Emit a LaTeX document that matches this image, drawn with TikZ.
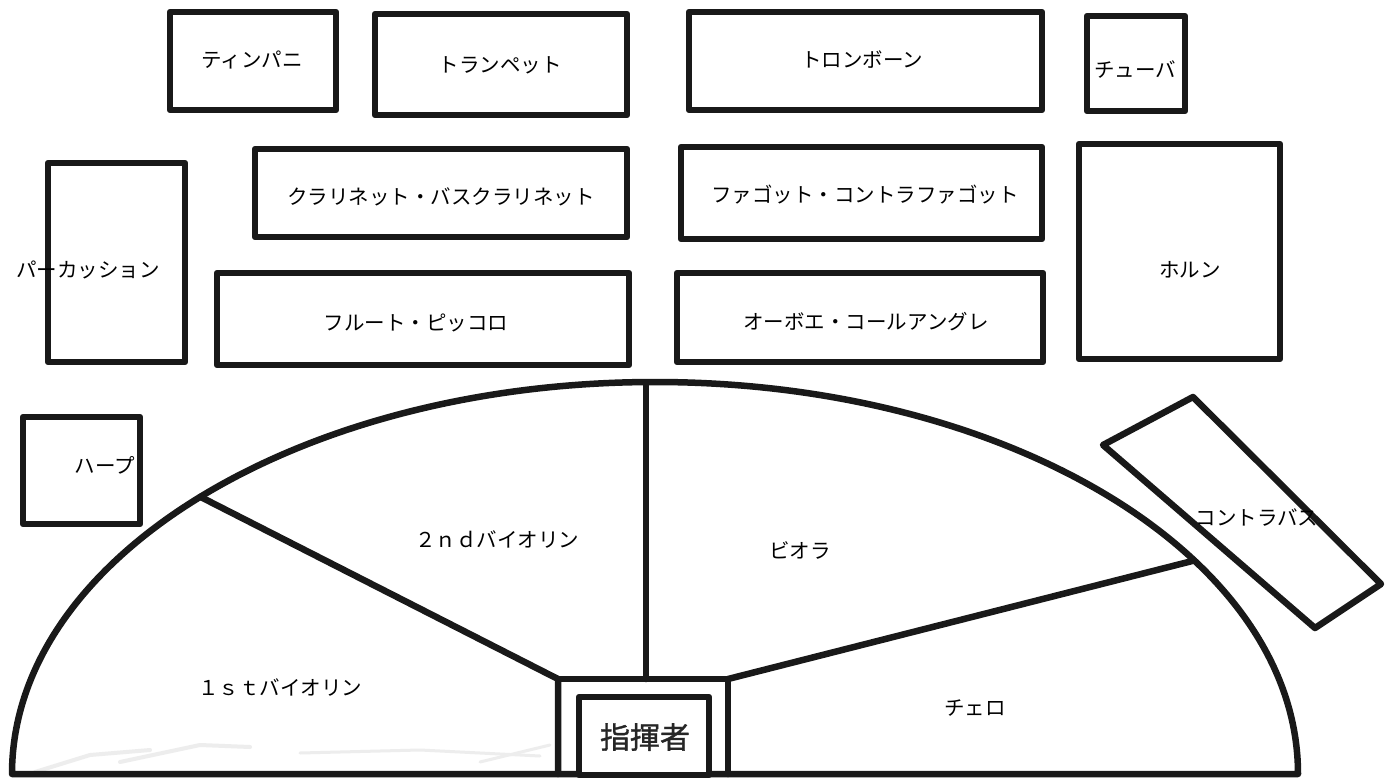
\documentclass[tikz,border=0pt]{standalone}
\usepackage{fontspec}
\newfontfamily\jp{Noto Sans CJK JP}
\newfontfamily\jpm[FakeBold=1.2]{Noto Sans CJK JP}
\usetikzlibrary{calc}
\begin{document}
\begin{tikzpicture}[x=1pt,y=-1pt,line join=round,line cap=round,
  box/.style={draw=black!90,line width=6.5pt,inner sep=0pt,fill=white},
  lbl/.style={font=\jp\fontsize{20.5}{22}\selectfont,inner sep=0pt,text=black},
  big/.style={font=\jpm\fontsize{30}{32}\selectfont,inner sep=0pt,text=black!85},
  stage/.style={draw=black!90,line width=6.5pt},
  smudge/.style={draw=black!7,line width=4pt}]
\useasboundingbox[fill=white] (0,0) rectangle (1385,779);

% smudges at the bottom left
\draw[smudge] (35,772) -- (90,755) -- (150,750);
\draw[smudge] (120,762) -- (200,745) -- (250,747);
\draw[smudge,line width=3pt] (300,753) -- (420,750) -- (540,756);
\draw[smudge,line width=3pt] (480,762) -- (550,745);

% upper boxes
\node[box,minimum width=166pt,minimum height=98pt] (timp) at (253,61) {};
\node[lbl] (timpT) at (252,60) {ティンパニ};
\node[box,minimum width=252pt,minimum height=101pt] (trp) at (501,64.5) {};
\node[lbl] (trpT) at (500,65) {トランペット};
\node[box,minimum width=353pt,minimum height=98pt] (trb) at (865.5,61) {};
\node[lbl] (trbT) at (862,60) {トロンボーン};
\node[box,minimum width=98pt,minimum height=95pt] (tuba) at (1136,63.5) {};
\node[lbl] (tubaT) at (1135,70) {チューバ};

\node[box,minimum width=137pt,minimum height=199pt] (perc) at (116.5,262.5) {};
\node[lbl] (percT) at (88,270) {パーカッション};
\node[box,minimum width=372pt,minimum height=88pt] (cl) at (441,193) {};
\node[lbl] (clT) at (441,197) {クラリネット・バスクラリネット};
\node[box,minimum width=361pt,minimum height=92pt] (fg) at (861.5,193) {};
\node[lbl] (fgT) at (865,195) {ファゴット・コントラファゴット};
\node[box,minimum width=201pt,minimum height=215pt] (hn) at (1179.5,251.5) {};
\node[lbl] (hnT) at (1190,270) {ホルン};
\node[box,minimum width=412pt,minimum height=92pt] (fl) at (423,319) {};
\node[lbl] (flT) at (416,323) {フルート・ピッコロ};
\node[box,minimum width=366pt,minimum height=89pt] (ob) at (860,317.5) {};
\node[lbl] (obT) at (866,322) {オーボエ・コールアングレ};
\node[box,minimum width=117pt,minimum height=107pt] (hp) at (81.5,470.5) {};
\node[lbl] (hpT) at (105,465) {ハープ};

% contrabass (tilted box)
\coordinate (cb1) at (1103,445);
\coordinate (cb2) at (1193,397);
\coordinate (cb3) at (1381,584);
\coordinate (cb4) at (1315,628);
\draw[stage] (cb1) -- (cb2) -- (cb3) -- (cb4) -- cycle;
\node[lbl] (cbT) at (1257,518) {コントラバス};

% strings semicircle
\coordinate (ctr) at (655,774);
\coordinate (aL) at (12,774);
\coordinate (aR) at (1298,774);
\coordinate (dL) at ($(ctr)+(135:643pt and 392pt)$);
\coordinate (dT) at (646,383);
\coordinate (dR) at ($(ctr)+(33:643pt and 392pt)$);
\coordinate (kL) at (558,679);
\coordinate (kM) at (646,679);
\coordinate (kR) at (728,679);
\coordinate (kLb) at (558,774);
\coordinate (kRb) at (728,774);
\draw[stage] (aR) arc[start angle=0,end angle=180,x radius=643pt,y radius=392pt] -- cycle;
\draw[stage] (dL) -- (kL) -- (kLb);
\draw[stage] (kL) -- (kR) -- (kRb);
\draw[stage] (dT) -- (kM);
\draw[stage] (kR) -- (dR);

\node[box,minimum width=130pt,minimum height=78pt] (cond) at (644,736) {};
\node[big] (condT) at (645,737) {指揮者};

\node[lbl] (v1) at (280,688) {１ｓｔバイオリン};
\node[lbl] (v2) at (497,540) {２ｎｄバイオリン};
\node[lbl] (va) at (800,550) {ビオラ};
\node[lbl] (vc) at (975,708) {チェロ};
\end{tikzpicture}
\end{document}
